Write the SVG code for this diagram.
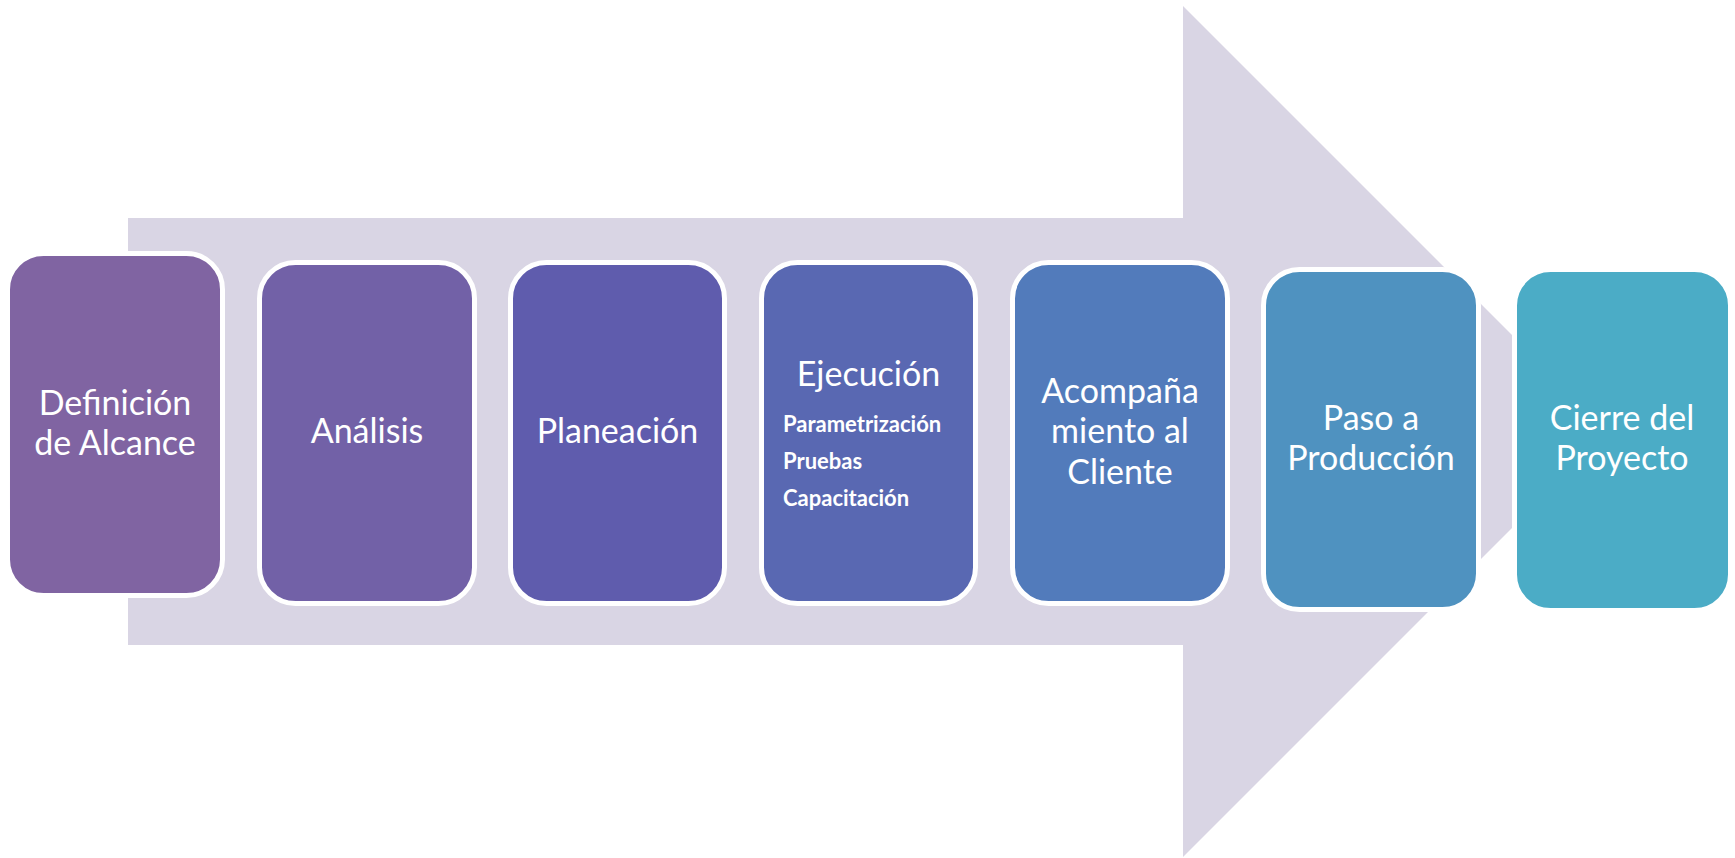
<svg xmlns="http://www.w3.org/2000/svg" width="1735" height="858" viewBox="0 0 1735 858">
<style>
.box{stroke:#FFFFFF;stroke-width:5}
.t{font-family:Lato,"Liberation Sans",sans-serif;font-size:34px;fill:#FFFFFF;text-anchor:middle}
.s{font-family:Lato,"Liberation Sans",sans-serif;font-size:22px;font-weight:bold;fill:#FFFFFF}
</style>
<rect width="1735" height="858" fill="#FFFFFF"/>
<g id="connectors">
<polygon id="arrow" points="128,218 1183,218 1183,6 1512,335 1512,528 1183,857 1183,645 128,645" fill="#D9D5E4"/>
</g>
<g id="n1">
<rect class="box" x="7.5" y="253.5" width="215" height="342" rx="36" fill="#8064A2"/>
<text class="t" x="115" y="415">Definición</text>
<text class="t" x="115" y="455">de Alcance</text>
</g>
<g id="n2">
<rect class="box" x="259.5" y="262.5" width="215" height="341" rx="36" fill="#7261A7"/>
<text class="t" x="367" y="443">Análisis</text>
</g>
<g id="n3">
<rect class="box" x="510.5" y="262.5" width="214" height="341" rx="36" fill="#5F5CAD"/>
<text class="t" x="617.5" y="443">Planeación</text>
</g>
<g id="n4">
<rect class="box" x="761.5" y="262.5" width="214" height="341" rx="36" fill="#5968B2"/>
<text class="t" x="868.5" y="386">Ejecución</text>
<text class="s" x="783" y="432">Parametrización</text>
<text class="s" x="783" y="469">Pruebas</text>
<text class="s" x="783" y="506">Capacitación</text>
</g>
<g id="n5">
<rect class="box" x="1012.5" y="262.5" width="215" height="341" rx="36" fill="#527BBB"/>
<text class="t" x="1120" y="403">Acompaña</text>
<text class="t" x="1120" y="443">miento al</text>
<text class="t" x="1120" y="484">Cliente</text>
</g>
<g id="n6">
<rect class="box" x="1263.5" y="269.5" width="215" height="340" rx="36" fill="#4F92C0"/>
<text class="t" x="1371" y="430">Paso a</text>
<text class="t" x="1371" y="470">Producción</text>
</g>
<g id="n7">
<rect class="box" x="1514.5" y="269.5" width="216" height="341" rx="36" fill="#4BACC6"/>
<text class="t" x="1622" y="430">Cierre del</text>
<text class="t" x="1622" y="470">Proyecto</text>
</g>
</svg>
